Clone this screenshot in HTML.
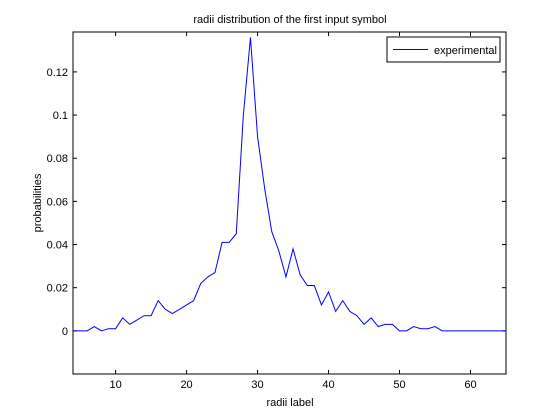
<!DOCTYPE html>
<html><head><meta charset="utf-8"><style>
body{margin:0;background:#fff;}
svg{display:block;font-family:"Liberation Sans",sans-serif;}
</style></head><body>
<svg id="c" width="560" height="420">
<rect width="560" height="420" fill="#fff"/>
</svg>
<script>
const xs=[4,5,6,7,8,9,10,11,12,13,14,15,16,17,18,19,20,21,22,23,24,25,26,27,28,29,30,31,32,33,34,35,36,37,38,39,40,41,42,43,44,45,46,47,48,49,50,51,52,53,54,55,56,57,58,59,60,61,62,63,64,65];
const probs=[0,0,0,0.002,0,0.001,0.001,0.006,0.003,0.005,0.007,0.007,0.014,0.010,0.008,0.010,0.012,0.014,0.022,0.025,0.027,0.041,0.041,0.045,0.100,0.136,0.090,0.066,0.046,0.037,0.025,0.038,0.026,0.021,0.021,0.012,0.018,0.009,0.014,0.009,0.007,0.003,0.006,0.002,0.003,0.003,0,0,0.002,0.001,0.001,0.002,0,0,0,0,0,0,0,0,0,0];
const xTicks=[10,20,30,40,50,60];
const yTicks=[0,0.02,0.04,0.06,0.08,0.1,0.12];
const yTickLabels=["0","0.02","0.04","0.06","0.08","0.1","0.12"];
const L=73,R=506,T=32,B=374,x0=4,x1=65,y0=-0.02,y1=0.1385;
const sx=v=>L+(v-x0)/(x1-x0)*(R-L);
const sy=v=>B-(v-y0)/(y1-y0)*(B-T);
const svg=document.getElementById('c');
const NS='http://www.w3.org/2000/svg';
function mk(t,a,p){const e=document.createElementNS(NS,t);for(const k in a)e.setAttribute(k,a[k]);(p||svg).appendChild(e);return e;}
const ax=mk('rect',{x:L,y:T,width:R-L,height:B-T,fill:'#fff',stroke:'#000','stroke-width':1});


xTicks.forEach(v=>{const x=sx(v);
mk('line',{x1:x,x2:x,y1:B,y2:B-4,stroke:'#000'});mk('line',{x1:x,x2:x,y1:T,y2:T+4,stroke:'#000'});
const t=mk('text',{x:x,y:B+14,'font-size':11,'text-anchor':'middle'});t.textContent=v;

});
yTicks.forEach((v,i)=>{const y=sy(v);
mk('line',{x1:L,x2:L+4,y1:y,y2:y,stroke:'#000'});mk('line',{x1:R,x2:R-4,y1:y,y2:y,stroke:'#000'});
const t=mk('text',{x:L-5,y:y+4,'font-size':11,'text-anchor':'end'});t.textContent=yTickLabels[i];

});
const line=mk('polyline',{points:xs.map((x,i)=>sx(x)+','+sy(probs[i])).join(' '),fill:'none',stroke:'#0000ff','stroke-width':1});


const tt=mk('text',{x:290,y:23,'font-size':11,'text-anchor':'middle'});tt.textContent='radii distribution of the first input symbol';


const xl=mk('text',{x:290,y:406,'font-size':11,'text-anchor':'middle'});xl.textContent='radii label';


const yl=mk('text',{x:0,y:0,'font-size':11,'text-anchor':'middle',transform:'translate(41,203) rotate(-90)'});yl.textContent='probabilities';


const lg=mk('g',{});


mk('rect',{x:387,y:37,width:113,height:25,fill:'#fff',stroke:'#000'},lg);
mk('line',{x1:393,x2:428,y1:49.5,y2:49.5,stroke:'#0000ff'},lg);
const lt=mk('text',{x:434,y:54,'font-size':11},lg);lt.textContent='experimental';


</script>
</body></html>
